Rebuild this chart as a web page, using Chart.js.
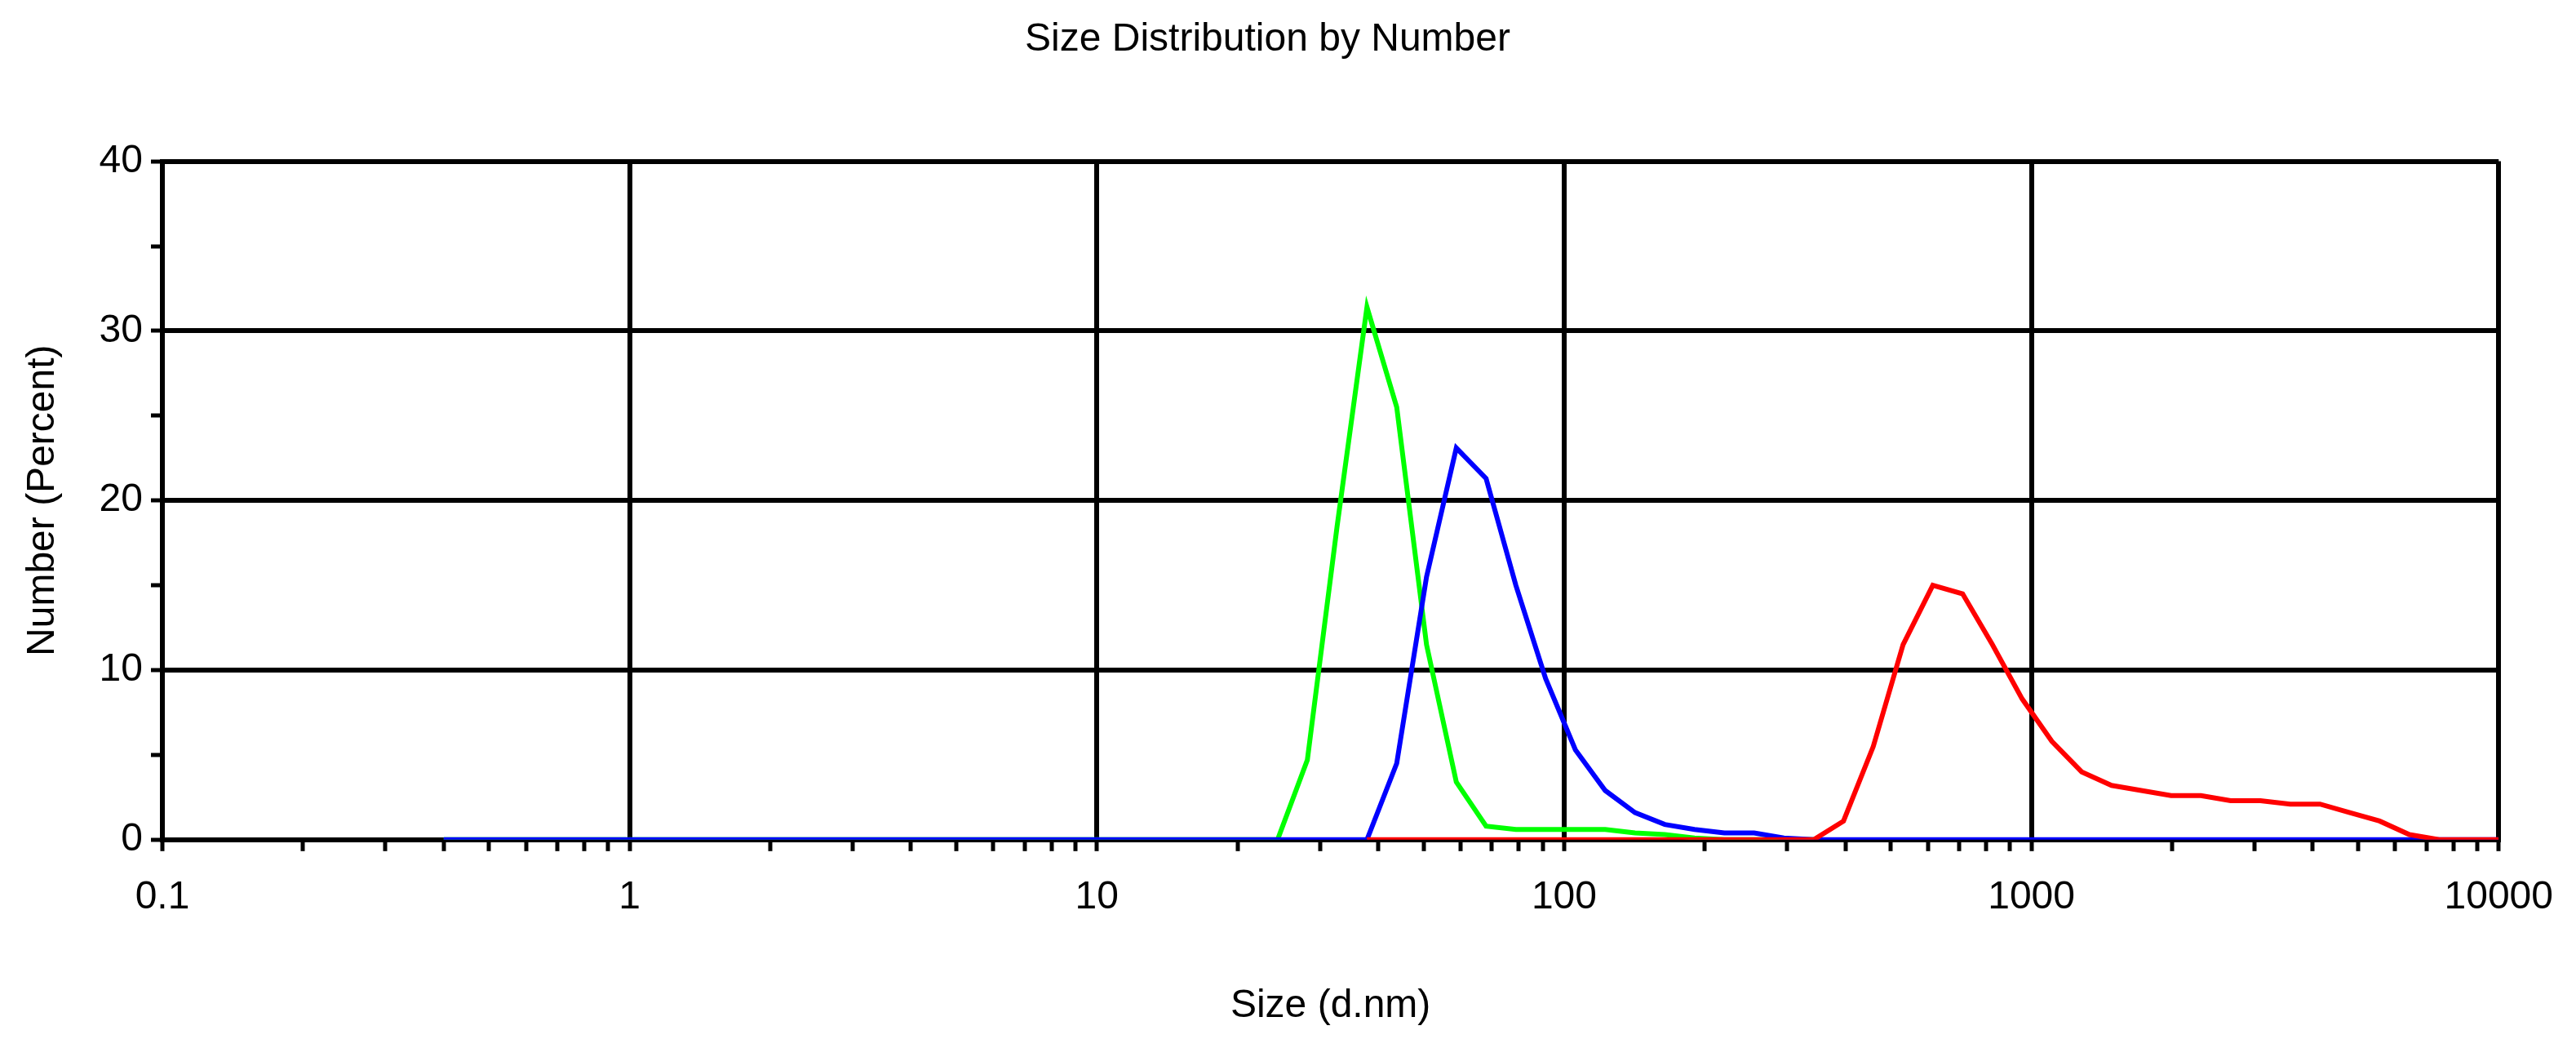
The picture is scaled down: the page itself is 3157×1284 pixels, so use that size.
<!DOCTYPE html>
<html>
<head>
<meta charset="utf-8">
<script src="https://cdn.jsdelivr.net/npm/chart.js@4"></script>
<style>
  html, body { margin: 0; padding: 0; background: #fff; }
  #wrap { width: 3157px; height: 1284px; }
</style>
</head>
<body>
<div id="wrap"><canvas id="sizeChart"></canvas></div>
<script>
// size classes (d.nm)
const sizes = [0.4, 0.4632, 0.5365, 0.6213, 0.7195, 0.8332, 0.9649, 1.117, 1.294, 1.499,
  1.736, 2.010, 2.328, 2.696, 3.122, 3.615, 4.187, 4.849, 5.615, 6.503,
  7.531, 8.721, 10.10, 11.70, 13.54, 15.69, 18.17, 21.04, 24.36, 28.21,
  32.67, 37.84, 43.82, 50.75, 58.77, 68.06, 78.82, 91.28, 105.7, 122.4,
  141.8, 164.2, 190.1, 220.2, 255.0, 295.3, 342.0, 396.1, 458.7, 531.2,
  615.1, 712.4, 825.0, 955.4, 1106, 1281, 1484, 1718, 1990, 2305,
  2669, 3091, 3580, 4145, 4801, 5560, 6439, 7456, 8635, 10000];

// number % per class, zeros where the curve sits on the baseline
const redValues = [null, null, null, null, null, null, null, null, null, null,
  null, null, null, null, null, null, null, null, null, null,
  null, null, null, null, null, null, null, null, null, null,
  null, 0, 0, 0, 0, 0, 0, 0, 0, 0,
  0, 0, 0, 0, 0, 0, 0, 1.1, 5.5, 11.5,
  15.0, 14.5, 11.5, 8.3, 5.8, 4.0, 3.2, 2.9, 2.6, 2.6,
  2.3, 2.3, 2.1, 2.1, 1.6, 1.1, 0.3, 0, 0, 0];
const greenValues = [0, 0, 0, 0, 0, 0, 0, 0, 0, 0,
  0, 0, 0, 0, 0, 0, 0, 0, 0, 0,
  0, 0, 0, 0, 0, 0, 0, 0, 0, 4.7,
  18.5, 31.4, 25.5, 11.5, 3.4, 0.8, 0.6, 0.6, 0.6, 0.6,
  0.4, 0.3, 0.1, 0, 0, 0, 0, null, null, null,
  null, null, null, null, null, null, null, null, null, null,
  null, null, null, null, null, null, null, null, null, null];
const blueValues = [0, 0, 0, 0, 0, 0, 0, 0, 0, 0,
  0, 0, 0, 0, 0, 0, 0, 0, 0, 0,
  0, 0, 0, 0, 0, 0, 0, 0, 0, 0,
  0, 0, 4.5, 15.5, 23.1, 21.3, 15.0, 9.5, 5.3, 2.9,
  1.6, 0.9, 0.6, 0.4, 0.4, 0.1, 0, 0, 0, 0,
  0, 0, 0, 0, 0, 0, 0, 0, 0, 0,
  0, 0, 0, 0, 0, 0, 0, 0, 0, 0];

const xTicks = [];
[0.1, 1, 10, 100, 1000].forEach(d => {
  for (let m = 1; m < 10; m++) xTicks.push(+(d * m).toPrecision(3));
});
xTicks.push(10000);
const xMajor = [0.1, 1, 10, 100, 1000, 10000];

function pts(vals) {
  return sizes.map((s, i) => ({ x: s, y: vals[i] }));
}
function line(vals, color) {
  return { data: pts(vals), borderColor: color, backgroundColor: color,
    borderWidth: 6, pointRadius: 0, tension: 0, fill: false, spanGaps: false };
}

const font = { family: "'Liberation Sans', Arial, sans-serif", size: 48, weight: "normal" };

new Chart("sizeChart", {
  type: "line",
  data: {
    // first dataset is painted on top
    datasets: [line(redValues, "#ff0000"), line(blueValues, "#0000ff"), line(greenValues, "#00ff00")]
  },
  options: {
    responsive: true,
    maintainAspectRatio: false,
    animation: false,
    layout: { padding: { left: 20, right: 70, top: 20, bottom: 18 } },
    plugins: {
      legend: { display: false },
      tooltip: { enabled: false },
      title: { display: true, text: "Size Distribution by Number", color: "#000",
        font: font, padding: { top: 0, bottom: 120 } }
    },
    scales: {
      x: {
        type: "logarithmic", min: 0.1, max: 10000,
        afterBuildTicks: axis => { axis.ticks = xTicks.map(v => ({ value: v })); },
        ticks: {
          color: "#000", font: font, autoSkip: false, maxRotation: 0, padding: 28,
          callback: v => xMajor.includes(v) ? String(v) : ""
        },
        grid: {
          color: c => xMajor.includes(c.tick && c.tick.value) ? "#000" : "rgba(0,0,0,0)",
          lineWidth: 6, tickColor: "#000", tickLength: 14, tickWidth: 5
        },
        border: { color: "#000", width: 6 },
        title: { display: true, text: "Size (d.nm)", color: "#000", font: font, padding: { top: 48 } }
      },
      y: {
        min: 0, max: 40,
        ticks: {
          stepSize: 5, color: "#000", font: font, padding: 10,
          callback: v => v % 10 === 0 ? String(v) : ""
        },
        grid: {
          color: c => c.tick && c.tick.value % 10 === 0 ? "#000" : "rgba(0,0,0,0)",
          lineWidth: 6, tickColor: "#000", tickLength: 14, tickWidth: 5
        },
        border: { color: "#000", width: 6 },
        title: { display: true, text: "Number (Percent)", color: "#000", font: font, padding: { bottom: 30 } }
      }
    }
  }
});
</script>
</body>
</html>
